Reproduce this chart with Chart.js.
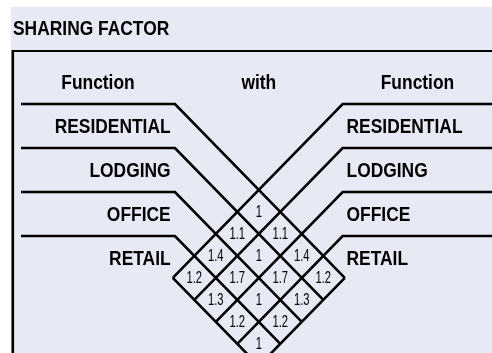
<!DOCTYPE html>
<html>
<head>
<meta charset="utf-8">
<script src="https://cdn.jsdelivr.net/npm/chart.js@4/dist/chart.umd.min.js"></script>
<style>
  body { margin: 0; background: #fff; }
  #wrap { width: 492px; height: 353px; position: relative; }
</style>
</head>
<body>
<div id="wrap"><canvas id="myChart"></canvas></div>
<script>
/* data */
const title = 'SHARING FACTOR';
const headers = ['Function', 'with', 'Function'];
const functions = ['RESIDENTIAL', 'LODGING', 'OFFICE', 'RETAIL'];
// sharing factor of function (row) with function (column)
const sharing = [
    [1.0, 1.1, 1.4, 1.2],
    [1.1, 1.0, 1.7, 1.3],
    [1.4, 1.7, 1.0, 1.2],
    [1.2, 1.3, 1.2, 1.0]
];

/* layout, in pixels -> units of one row */
const W = 492, H = 353;
const CX = 258.8, CY = 104, UX = 43, UY = 44;
const gap = 1.95;               // half width between the two label blocks
const leftStart = (21 - CX) / UX;
const rightEnd = (W - CX) / UX;
const n = functions.length;
const BG = '#E7E9F5';
const FONT = '"Liberation Sans", Arial, sans-serif';
const SQUEEZE = 0.87;           // narrow look of the labels

// lines: one per function on each side, plus the closing edge of the grid
const lineSets = [];
for (let i = 0; i <= n; i++) {
    let pts = [];
    if (i < n) {
        pts.push({x: leftStart, y: i}, {x: -gap, y: i});
    } else {
        pts.push({x: -n / 2, y: gap + n / 2});
    }
    pts.push({x: (n - i) / 2, y: gap + (i + n) / 2});
    lineSets.push(pts);

    pts = [];
    if (i < n) {
        pts.push({x: rightEnd, y: i}, {x: gap, y: i});
    } else {
        pts.push({x: n / 2, y: gap + n / 2});
    }
    pts.push({x: (i - n) / 2, y: gap + (i + n) / 2});
    lineSets.push(pts);
}

// one point per cell of the diamond
const cellPts = [];
const cellText = [];
sharing.forEach(function(row, i) {
    row.forEach(function(v, j) {
        cellPts.push({x: (j - i) / 2, y: gap + (i + j + 1) / 2});
        cellText.push(v.toFixed(1).replace('.0', ''));
    });
});

const leftPts = functions.map((f, i) => ({x: -gap - 0.1, y: i + 0.5}));
const rightPts = functions.map((f, i) => ({x: gap + 0.09, y: i + 0.5}));
const headPts = [{x: -3.74, y: -0.5}, {x: 0, y: -0.5}, {x: 3.69, y: -0.5}];

const datasets = lineSets.map(function(pts) {
    return {
        data: pts,
        showLine: true,
        borderColor: '#000',
        borderWidth: 2.6,
        borderJoinStyle: 'miter',
        pointRadius: 0,
        fill: false
    };
});
datasets.push({data: cellPts, texts: cellText, pointRadius: 0, font: '17px ' + FONT, align: 'center', sx: 0.66});
datasets.push({data: leftPts, texts: functions, pointRadius: 0, font: 'bold 20px ' + FONT, align: 'right', sx: SQUEEZE});
datasets.push({data: rightPts, texts: functions, pointRadius: 0, font: 'bold 20px ' + FONT, align: 'left', sx: SQUEEZE});
datasets.push({data: headPts, texts: headers, pointRadius: 0, font: 'bold 20px ' + FONT, align: 'center', sx: SQUEEZE});

function squeezedText(c, t, x, y, sx) {
    c.save();
    c.translate(x, y);
    c.scale(sx, 1);
    c.fillText(t, 0, 0);
    c.restore();
}

const frame = {
    id: 'frame',
    beforeDraw: function(chart) {
        const c = chart.ctx;
        c.save();
        c.fillStyle = '#fff';
        c.fillRect(0, 0, W, H);
        c.fillStyle = BG;
        c.fillRect(11, 7, W - 11, H - 7);
        c.strokeStyle = '#000';
        c.lineWidth = 2.2;
        c.beginPath();
        c.moveTo(12, 51);
        c.lineTo(W, 51);
        c.stroke();
        c.lineWidth = 2.6;
        c.beginPath();
        c.moveTo(12.8, 50);
        c.lineTo(12.8, H);
        c.stroke();
        c.fillStyle = '#000';
        c.font = 'bold 20px ' + FONT;
        c.textAlign = 'left';
        c.textBaseline = 'alphabetic';
        squeezedText(c, title, 13, 35, SQUEEZE);
        c.restore();
    }
};

const texts = {
    id: 'texts',
    afterDatasetsDraw: function(chart) {
        const c = chart.ctx;
        chart.data.datasets.forEach(function(ds, k) {
            if (!ds.texts) return;
            const meta = chart.getDatasetMeta(k);
            c.save();
            c.fillStyle = '#000';
            c.font = ds.font;
            c.textAlign = ds.align;
            c.textBaseline = 'middle';
            meta.data.forEach(function(el, m) {
                squeezedText(c, ds.texts[m], el.x, el.y + 1, ds.sx);
            });
            c.restore();
        });
    }
};

var ctx = document.getElementById('myChart').getContext('2d');

var chart = new Chart(ctx, {
    type: 'scatter',
    data: { datasets: datasets },
    options: {
        responsive: true,
        maintainAspectRatio: false,
        animation: false,
        layout: { padding: 0 },
        scales: {
            x: { type: 'linear', display: false, min: -CX / UX, max: (W - CX) / UX },
            y: { type: 'linear', display: false, reverse: true, min: -CY / UY, max: (H - CY) / UY }
        },
        plugins: {
            legend: { display: false },
            tooltip: { enabled: false }
        }
    },
    plugins: [frame, texts]
});
</script>
</body>
</html>
